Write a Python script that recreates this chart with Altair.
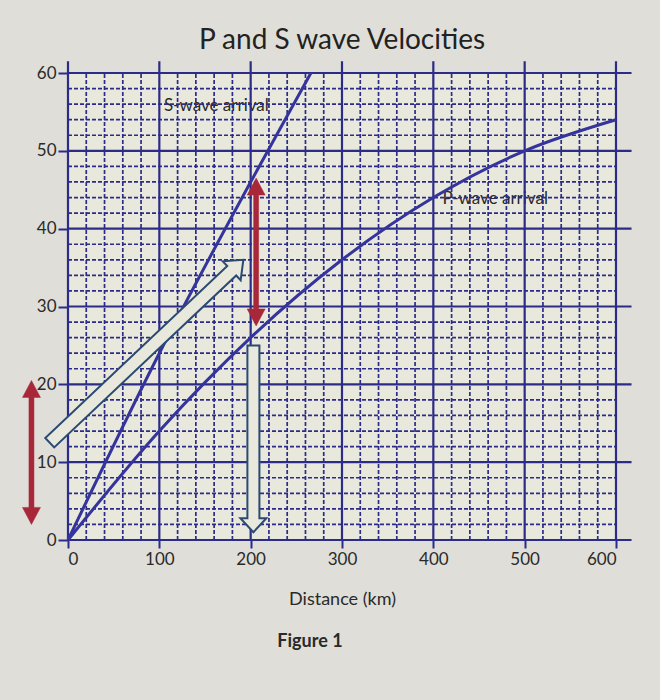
import math
import altair as alt
import pandas as pd

# ---------------- values ----------------
p_distance = [0, 100, 200, 300, 400, 500, 600]
p_time = [0, 14, 26, 36, 44, 50, 54]
s_distance = [0, 100, 200, 266]
s_time = [0, 24, 46, 60]

x_major = [0, 100, 200, 300, 400, 500, 600]
y_major = [0, 10, 20, 30, 40, 50, 60]
x_minor = [v for v in range(20, 600, 20) if v % 100]
y_minor = [v for v in range(2, 60, 2) if v % 10]

label_text = ["S-wave arrival", "P-wave arrival"]
label_x = [105, 410]
label_y = [55.8, 43.8]

# hollow (outlined) arrows: tail -> tip, in data units
hollow_tail_x = [-20, 203]
hollow_tail_y = [12.5, 25]
hollow_tip_x = [192, 203]
hollow_tip_y = [36, 1]

# red double-headed arrows
red_x = [206, -40]
red_top = [46.5, 20.5]
red_bottom = [27.5, 2]

# ---------------- layout / style ----------------
W, H = 548, 467
LEFT, TOP = 68, 73
XMAX, YMAX = 600, 60
KX, KY = W / XMAX, H / YMAX

OUTER_BG = "#dfded8"
PLOT_BG = "#e8e9dc"
GRID = "#2d2b88"
CURVE = "#34349c"
HOLLOW = "#2b4a72"
RED = "#a8283a"
TXT = "#2a2a2a"
FONT = "Lato"

xs = alt.Scale(domain=[0, XMAX], nice=False, zero=False)
ys = alt.Scale(domain=[0, YMAX], nice=False, zero=False)

XAXIS = alt.Axis(values=x_major, grid=False, domain=False,
                 tickSize=8, tickWidth=2, tickColor=GRID,
                 labelFont=FONT, labelFontSize=17, labelColor=TXT,
                 labelPadding=3, titleFont=FONT, titleFontSize=18,
                 titleFontWeight="normal", titleColor=TXT, titlePadding=23)
YAXIS = alt.Axis(values=y_major, grid=False, domain=False,
                 tickSize=10, tickWidth=2, tickColor=GRID,
                 labelFont=FONT, labelFontSize=17, labelColor=TXT,
                 labelPadding=2)
XT = "Distance (km)"


def X(field):
    return alt.X(field, scale=xs, axis=XAXIS, title=XT)


def Y(field):
    return alt.Y(field, scale=ys, axis=YAXIS, title=None)


def arrow_path(length, shaft, head_w, head_l):
    """Single arrow pointing up, tip at origin, units in pixels (size=4)."""
    s, hw = shaft / 2, head_w / 2
    return (f"M0,0 L{hw},{head_l} L{s},{head_l} L{s},{length} "
            f"L{-s},{length} L{-s},{head_l} L{-hw},{head_l} Z")


def double_arrow_path(length, shaft, head_w, head_l):
    s, hw = shaft / 2, head_w / 2
    b = length - head_l
    return (f"M0,0 L{hw},{head_l} L{s},{head_l} L{s},{b} L{hw},{b} "
            f"L0,{length} L{-hw},{b} L{-s},{b} L{-s},{head_l} L{-hw},{head_l} Z")


# ---------------- tables ----------------
df_vmin = pd.DataFrame({"x": x_minor, "y0": 0, "y1": YMAX})
df_hmin = pd.DataFrame({"y": y_minor, "x0": 0, "x1": XMAX})
df_vmaj = pd.DataFrame({"x": x_major, "y0": 0, "y1": YMAX + 1.5})
df_hmaj = pd.DataFrame({"y": y_major, "x0": 0, "x1": XMAX + 17})

df_curves = pd.concat([
    pd.DataFrame({"distance": p_distance, "time": p_time, "wave": "P"}),
    pd.DataFrame({"distance": s_distance, "time": s_time, "wave": "S"}),
])
df_labels = pd.DataFrame({"text": label_text, "x": label_x, "y": label_y})

rows = []
specs = [(13, 26, 16), (12, 26, 14)]
for tx, ty, hx, hy, (sw, hw, hl) in zip(hollow_tail_x, hollow_tail_y,
                                        hollow_tip_x, hollow_tip_y, specs):
    dx = (hx - tx) * KX
    dy = -(hy - ty) * KY
    length = math.hypot(dx, dy)
    ang = math.degrees(math.atan2(dx, -dy)) % 360
    rows.append({"x": hx, "y": hy, "path": arrow_path(length, sw, hw, hl),
                 "angle": ang})
df_hollow = pd.DataFrame(rows)

rows = []
for x, t, b in zip(red_x, red_top, red_bottom):
    length = (t - b) * KY
    rows.append({"x": x, "y": t, "path": double_arrow_path(length, 5, 18, 17),
                 "angle": 0})
df_red = pd.DataFrame(rows)

# ---------------- layers ----------------
labels = alt.Chart(df_labels).mark_text(
    align="left", baseline="middle", font=FONT, fontSize=17, color=TXT
).encode(x=X("x:Q"), y=Y("y:Q"), text="text:N")

vmin = alt.Chart(df_vmin).mark_rule(
    color=GRID, strokeWidth=1.7, strokeDash=[4, 2]
).encode(x=X("x:Q"), y=Y("y0:Q"), y2="y1:Q")

hmin = alt.Chart(df_hmin).mark_rule(
    color=GRID, strokeWidth=1.7, strokeDash=[4, 2]
).encode(y=Y("y:Q"), x=X("x0:Q"), x2="x1:Q")

vmaj = alt.Chart(df_vmaj).mark_rule(color=GRID, strokeWidth=2.2).encode(
    x=X("x:Q"), y=Y("y0:Q"), y2="y1:Q")

hmaj = alt.Chart(df_hmaj).mark_rule(color=GRID, strokeWidth=2.2).encode(
    y=Y("y:Q"), x=X("x0:Q"), x2="x1:Q")

curves = alt.Chart(df_curves).mark_line(
    color=CURVE, strokeWidth=3, interpolate="monotone"
).encode(x=X("distance:Q"), y=Y("time:Q"), detail="wave:N")

hollow = alt.Chart(df_hollow).mark_point(
    filled=True, fill=PLOT_BG, stroke=HOLLOW, strokeWidth=2, size=4, opacity=1
).encode(x=X("x:Q"), y=Y("y:Q"),
         shape=alt.Shape("path:N", scale=None),
         angle=alt.Angle("angle:Q", scale=None))

red = alt.Chart(df_red).mark_point(
    filled=True, fill=RED, stroke=RED, strokeWidth=0.5, size=4, opacity=1
).encode(x=X("x:Q"), y=Y("y:Q"),
         shape=alt.Shape("path:N", scale=None),
         angle=alt.Angle("angle:Q", scale=None))

figure_caption = alt.Chart(pd.DataFrame({"t": ["Figure 1"]})).mark_text(
    font=FONT, fontSize=18, fontWeight="bold", color=TXT, align="center",
    baseline="middle"
).encode(text="t:N", x=alt.value(242), y=alt.value(569))

chart = alt.layer(
    labels, vmin, hmin, vmaj, hmaj, curves, hollow, red, figure_caption
).properties(
    width=W, height=H,
    autosize="none",
    padding={"left": LEFT, "top": TOP, "right": 660 - LEFT - W,
             "bottom": 700 - TOP - H},
    background=OUTER_BG,
    title=alt.TitleParams("P and S wave Velocities", font=FONT, fontSize=28,
                          fontWeight="normal", color="#222222",
                          anchor="middle", frame="group", offset=5),
).configure_view(fill=PLOT_BG, strokeWidth=0)

chart.save("out.html", embed_options={"renderer": "svg", "actions": False})
